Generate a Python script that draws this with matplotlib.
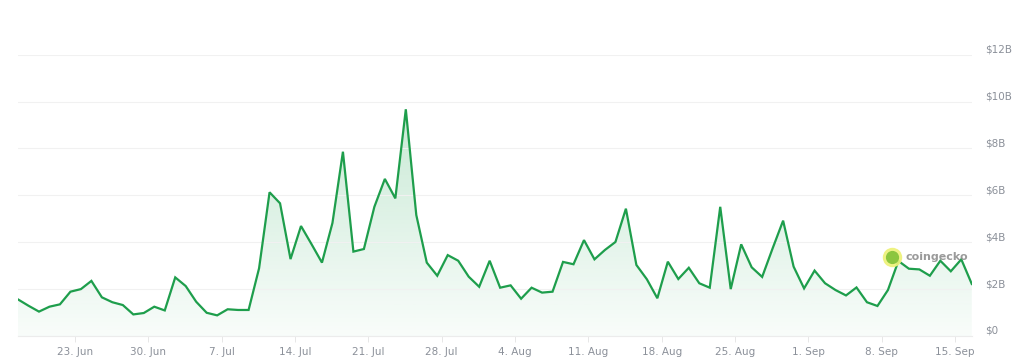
import numpy as np
import pandas as pd
import matplotlib.pyplot as plt
import matplotlib.dates as mdates

# daily volume, billions USD
start = "2025-06-17 14:00"
volume = [1.56, 1.29, 1.04, 1.25, 1.35, 1.89, 2.00, 2.35, 1.65, 1.44,
          1.32, 0.92, 0.98, 1.25, 1.09, 2.50, 2.13, 1.46, 0.99, 0.88,
          1.14, 1.11, 1.11, 2.89, 6.13, 5.66, 3.28, 4.69, 3.92, 3.13,
          4.82, 7.86, 3.60, 3.71, 5.51, 6.70, 5.87, 9.67, 5.16, 3.13,
          2.57, 3.45, 3.21, 2.53, 2.10, 3.21, 2.06, 2.16, 1.59, 2.06,
          1.85, 1.89, 3.16, 3.06, 4.09, 3.27, 3.67, 4.01, 5.43, 3.03,
          2.42, 1.61, 3.17, 2.43, 2.91, 2.25, 2.06, 5.51, 2.00, 3.91,
          2.93, 2.52, 3.74, 4.92, 2.96, 2.03, 2.79, 2.25, 1.96, 1.73,
          2.07, 1.44, 1.28, 1.96, 3.20, 2.87, 2.84, 2.57, 3.21, 2.76,
          3.27, 2.22]
yticks = [0, 2, 4, 6, 8, 10, 12]
ytick_labels = ["$0", "$2B", "$4B", "$6B", "$8B", "$10B", "$12B"]

dates = pd.date_range(start, periods=len(volume), freq="D")
x = mdates.date2num(dates)
y = np.array(volume)

line_color = "#1e9e4c"
text_color = "#8b9099"

fig = plt.figure(figsize=(10.24, 3.63), dpi=100)
ax = fig.add_axes([0.0176, 0.0744, 0.9314, 0.775])

# gradient fill under the line
poly = ax.fill_between(x, y, 0, color="none", lw=0)
grad = np.linspace(0.0, 1.0, 256).reshape(-1, 1)
rgba = np.zeros((256, 1, 4))
rgba[..., 0] = 0x22 / 255
rgba[..., 1] = 0xa8 / 255
rgba[..., 2] = 0x55 / 255
rgba[..., 3] = 0.03 + 0.27 * grad
img = ax.imshow(rgba, aspect="auto", origin="lower",
                extent=[x[0], x[-1], 0, 12], zorder=1)
img.set_clip_path(poly.get_paths()[0], transform=ax.transData)

ax.plot(x, y, color=line_color, lw=1.6, zorder=3, solid_joinstyle="miter")

ax.set_xlim(x[0], x[-1])
ax.set_ylim(0, 12)

ax.set_yticks(yticks)
ax.set_yticklabels(ytick_labels)
ax.yaxis.tick_right()
ax.tick_params(axis="y", length=0, pad=9.5, labelsize=7.5, labelcolor=text_color)
for lab in ax.get_yticklabels():
    lab.set_va("bottom")
ax.grid(axis="y", color="#f1f1f1", lw=0.8, zorder=0)

ax.xaxis.set_major_locator(mdates.WeekdayLocator(byweekday=mdates.MO))
ax.xaxis.set_major_formatter(
    plt.FuncFormatter(lambda v, p: f"{mdates.num2date(v).day}. {mdates.num2date(v):%b}"))
ax.tick_params(axis="x", length=4, width=0.6, color="#e3e3e3", pad=4,
               labelsize=7.5, labelcolor=text_color)

for s in ["top", "left", "right"]:
    ax.spines[s].set_visible(False)
ax.spines["bottom"].set_color("#ececec")
ax.spines["bottom"].set_linewidth(0.8)

# coingecko watermark
lx, ly = 892 / 1024, 1 - 257 / 363
fig.add_artist(plt.Line2D([lx], [ly], marker="o", markersize=13, color="#eef27a",
                          alpha=0.9, transform=fig.transFigure, zorder=5))
fig.add_artist(plt.Line2D([lx], [ly], marker="o", markersize=8.5, color="#8cc63f",
                          transform=fig.transFigure, zorder=6))
fig.text(906 / 1024, ly, "coingecko", fontsize=8, fontweight="bold",
         color="#8f8f8f", va="center", ha="left", alpha=0.9, zorder=6)

fig.savefig("out.png", dpi=100)
